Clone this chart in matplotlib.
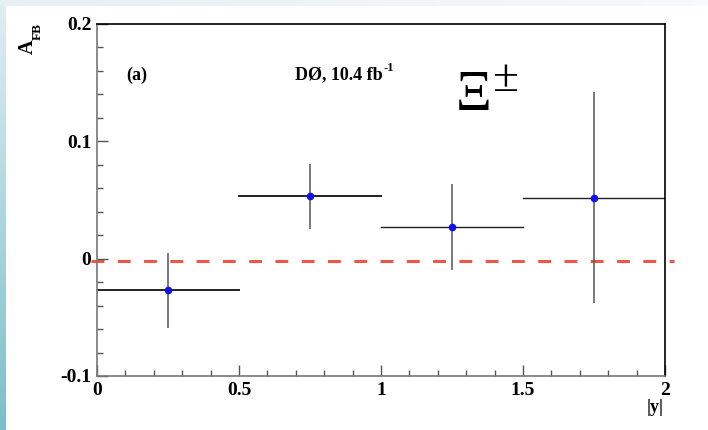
import matplotlib
matplotlib.use("Agg")
import matplotlib.pyplot as plt
import numpy as np

# Data
y_centers = [0.25, 0.75, 1.25, 1.75]
y_halfwidth = [0.25, 0.25, 0.25, 0.25]
afb = [-0.027, 0.053, 0.027, 0.052]
afb_err = [0.032, 0.028, 0.037, 0.090]
x_ticks = [0, 0.5, 1, 1.5, 2]
x_ticklabels = ["0", "0.5", "1", "1.5", "2"]
y_ticks = [-0.1, 0, 0.1, 0.2]
y_ticklabels = ["-0.1", "0", "0.1", "0.2"]

plt.rcParams['font.family'] = ['Liberation Serif', 'DejaVu Serif']

fig = plt.figure(figsize=(7.08, 4.30), dpi=100)
W, H = 708, 430

# slide-edge decorations
bg_left = fig.add_axes([0, 0, 6 / W, 1])
grad = np.linspace(0, 1, 256).reshape(-1, 1)
c_top = np.array([0.88, 0.93, 0.95])
c_bot = np.array([0.48, 0.75, 0.80])
img = c_top[None, None, :] * (1 - grad[:, :, None]) + c_bot[None, None, :] * grad[:, :, None]
bg_left.imshow(img, aspect='auto', extent=(0, 1, 0, 1))
bg_left.set_axis_off()
bg_top = fig.add_axes([0, 1 - 6 / H, 1, 6 / H])
gradh = np.linspace(0, 1, 256).reshape(1, -1)
c_l = np.array([0.90, 0.94, 0.96])
c_r = np.array([0.97, 0.98, 0.99])
imgh = c_l[None, None, :] * (1 - gradh[:, :, None]) + c_r[None, None, :] * gradh[:, :, None]
bg_top.imshow(imgh, aspect='auto', extent=(0, 1, 0, 1))
bg_top.set_axis_off()

ax = fig.add_axes([97 / W, 1 - 376 / H, (665 - 97) / W, (376 - 24) / H])
ax.set_xlim(0, 2)
ax.set_ylim(-0.1, 0.2)

# zero line
ax.plot([-0.02, 2.03], [-0.002, -0.002], color='#f05545', lw=2.2,
        dashes=(4.2, 4.4), clip_on=False, zorder=1)

# horizontal bars
for i, (xc, hw, v) in enumerate(zip(y_centers, y_halfwidth, afb)):
    lw = 1.4 if i < 2 else 1.0
    ax.plot([xc - hw, xc + hw], [v, v], color='#222222', lw=lw, zorder=2)
ax.errorbar(y_centers, afb, yerr=afb_err, fmt='none', ecolor='#555555',
            elinewidth=1.1, capsize=0, zorder=2)
ax.plot(y_centers, afb, 'o', color='#1010ee', ms=4.5, zorder=3)

ax.set_xticks(x_ticks)
ax.set_xticklabels(x_ticklabels)
ax.set_yticks(y_ticks)
ax.set_yticklabels(y_ticklabels)
ax.set_xticks(np.arange(0, 2.001, 0.1), minor=True)
ax.set_yticks(np.arange(-0.1, 0.2001, 0.02), minor=True)
ax.tick_params(which='both', direction='in', top=False, right=False,
               color='#555555')
ax.tick_params(which='major', length=8, width=1)
ax.tick_params(which='minor', length=4, width=1)
ax.tick_params(axis='x', pad=4)
ax.tick_params(axis='y', pad=4)
for lbl in ax.get_xticklabels() + ax.get_yticklabels():
    lbl.set_fontsize(14)
    lbl.set_fontweight('bold')
for s in ['left', 'bottom']:
    ax.spines[s].set_color('#777777')
    ax.spines[s].set_linewidth(1.2)
for s in ['top', 'right']:
    ax.spines[s].set_color('black')
    ax.spines[s].set_linewidth(1.2)

# axis titles
fig.text(28 / W, 1 - 47 / H, 'A', rotation=90, fontsize=14.5,
         fontweight='bold', ha='center', va='center')
fig.text(38 / W, 1 - 31 / H, 'FB', rotation=90, fontsize=9.5,
         fontweight='bold', ha='center', va='center')
fig.text(655 / W, 1 - 407 / H, '|y|', fontsize=13, fontweight='bold',
         ha='center', va='center')

# annotations
fig.text(126 / W, 1 - 75 / H, '(a)', fontsize=13, fontweight='bold',
         ha='left', va='center')
t = fig.text(295 / W, 1 - 75 / H, 'DØ, 10.4 fb', fontsize=13,
             fontweight='bold', ha='left', va='center')
ax.annotate('-1', xy=(1.0, 1.0), xycoords=t, xytext=(0.5, -1),
            textcoords='offset points', fontsize=9, fontweight='bold',
            ha='left', va='center', annotation_clip=False)
fig.text(456 / W, 1 - 110 / H, 'Ξ', fontsize=40, ha='left', va='baseline')
fig.text(493 / W, 1 - 91 / H, '±', fontsize=34, ha='left', va='baseline')

fig.savefig('out.png', dpi=100, facecolor='white')
